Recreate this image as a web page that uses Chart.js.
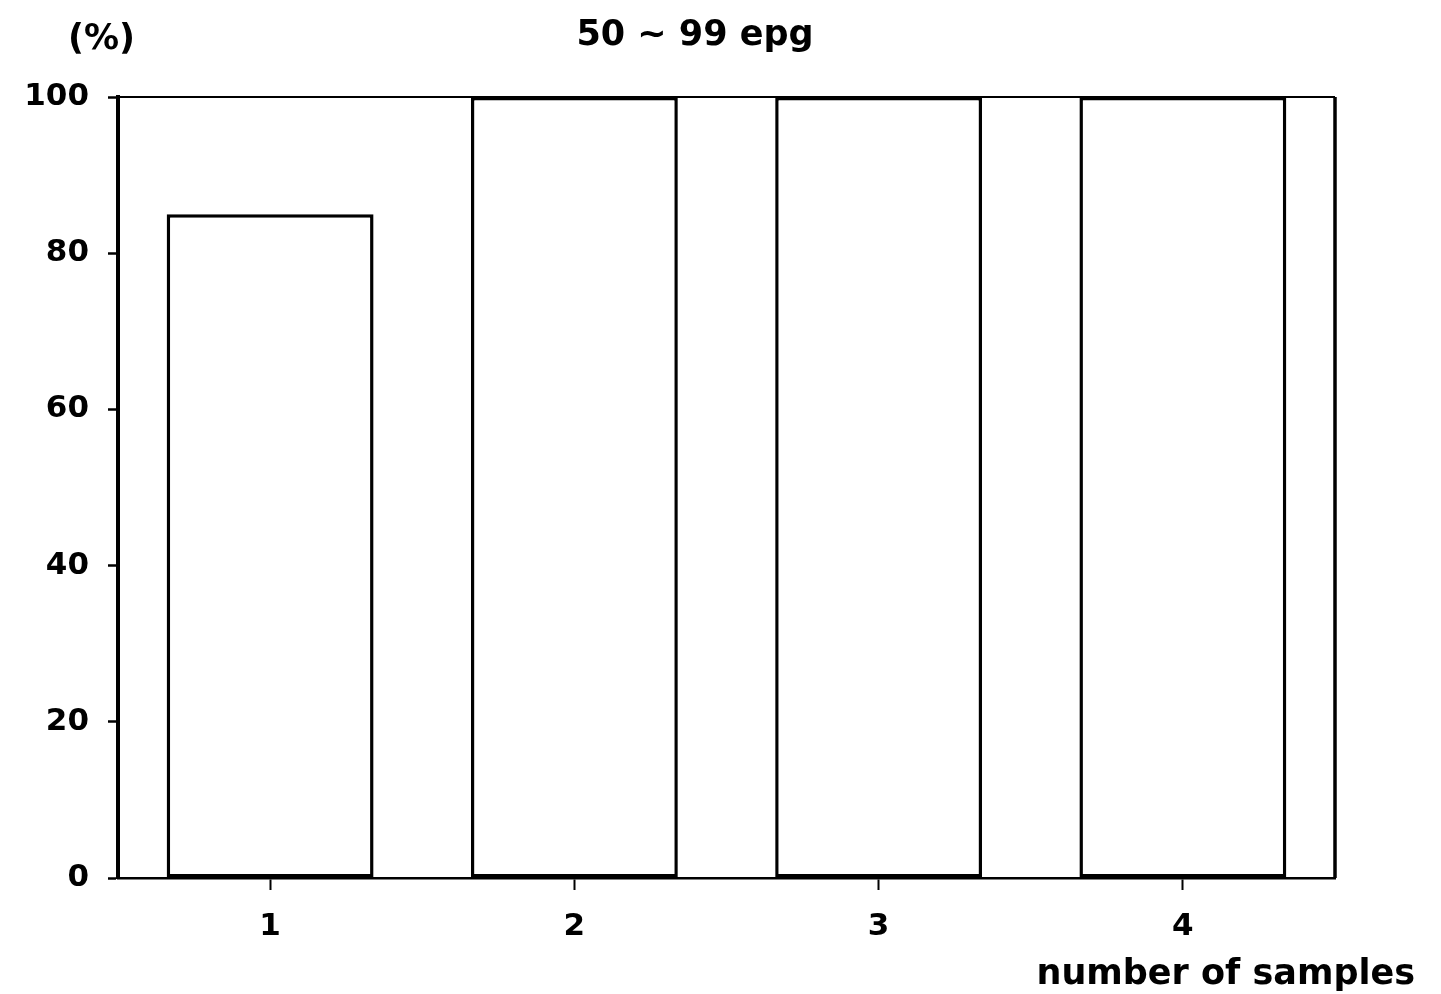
<!DOCTYPE html>
<html>
<head>
<meta charset="utf-8">
<script src="https://cdn.jsdelivr.net/npm/chart.js@4/dist/chart.umd.min.js"></script>
<style>
  html, body { margin: 0; padding: 0; background: #fff; }
  #wrap { width: 1441px; height: 994px; }
</style>
</head>
<body>
<div id="wrap"><canvas id="chart"></canvas></div>
<script>
var categories = ['1', '2', '3', '4'];
var percent = [85, 100, 100, 100];
var yTicks = [0, 20, 40, 60, 80, 100];

var FONT = '"DejaVu Sans", sans-serif';

// frame on top/right of the plot and the loose texts
var framePlugin = {
    id: 'frame',
    afterDraw: function (chart) {
        var c = chart.ctx, a = chart.chartArea;
        c.save();
        c.strokeStyle = '#000';
        c.lineWidth = 2;
        c.beginPath();
        c.moveTo(a.left, a.top);
        c.lineTo(a.right, a.top);
        c.stroke();
        c.lineWidth = 3.5;
        c.beginPath();
        c.moveTo(a.right, a.top);
        c.lineTo(a.right, a.bottom);
        c.stroke();

        c.fillStyle = '#000';
        c.font = 'bold 35px ' + FONT;
        c.textBaseline = 'middle';
        c.textAlign = 'left';
        c.fillText('(%)', 68, 40);
        c.textAlign = 'center';
        c.fillText('50 ~ 99 epg', 695, 36);
        c.textAlign = 'right';
        c.fillText('number of samples', 1415, 975);
        c.restore();
    }
};

new Chart(document.getElementById('chart'), {
    type: 'bar',
    data: {
        labels: categories,
        datasets: [{
            data: percent,
            backgroundColor: '#fff',
            borderColor: '#000',
            borderWidth: 3.5,
            borderSkipped: false,
            categoryPercentage: 1.0,
            barPercentage: 0.68
        }]
    },
    options: {
        responsive: true,
        maintainAspectRatio: false,
        animation: false,
        layout: { padding: { top: 97, right: 106, left: 0, bottom: 0 } },
        plugins: {
            legend: { display: false },
            tooltip: { enabled: false }
        },
        scales: {
            x: {
                offset: true,
                afterFit: function (s) { s.height = 116; },
                grid: {
                    offset: false,
                    drawOnChartArea: false,
                    drawTicks: true,
                    tickLength: 12,
                    tickWidth: 2,
                    tickColor: '#000'
                },
                border: { display: true, color: '#000', width: 2.5 },
                ticks: {
                    color: '#000',
                    padding: 18,
                    font: { family: FONT, size: 31, weight: 'bold' }
                }
            },
            y: {
                min: 0,
                max: 100,
                afterFit: function (s) { s.width = 118; },
                afterBuildTicks: function (s) {
                    s.ticks = yTicks.map(function (v) { return { value: v }; });
                },
                grid: {
                    drawOnChartArea: false,
                    drawTicks: true,
                    tickLength: 10,
                    tickWidth: 2.5,
                    tickColor: '#000'
                },
                border: { display: true, color: '#000', width: 4 },
                ticks: {
                    color: '#000',
                    padding: 19,
                    font: { family: FONT, size: 31, weight: 'bold' }
                }
            }
        }
    },
    plugins: [framePlugin]
});
</script>
</body>
</html>
